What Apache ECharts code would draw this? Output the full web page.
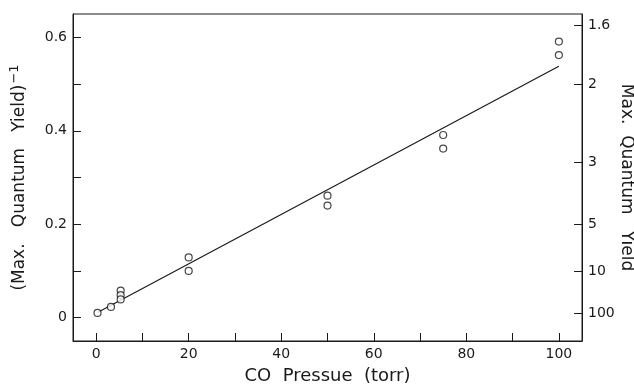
<!DOCTYPE html>
<html>
<head>
<meta charset="utf-8">
<script src="https://cdn.jsdelivr.net/npm/echarts@6/dist/echarts.min.js"></script>
<style>html,body{margin:0;padding:0;background:#fff}#c{width:634px;height:386px}</style>
</head>
<body>
<div id="c"></div>
<script>
// Data
var pressureTorr = [0.3, 3.2, 5.3, 5.3, 5.3, 20, 20, 50, 50, 75, 75, 100, 100];
var inverseYield = [0.010, 0.023, 0.058, 0.048, 0.039, 0.129, 0.100, 0.261, 0.240, 0.391, 0.362, 0.591, 0.562];
var fitX = [0.3, 100];
var fitY = [0.011, 0.538];
var xTicks = [0, 10, 20, 30, 40, 50, 60, 70, 80, 90, 100];
var xLabels = [0, 20, 40, 60, 80, 100];
var yTicks = [0, 0.1, 0.2, 0.3, 0.4, 0.5, 0.6];
var yLabels = [0, 0.2, 0.4, 0.6];
var rightYieldLabels = [1.6, 2, 3, 5, 10, 100];

var ink = '#1a1a1a';
var font = 'DejaVu Sans';
var pts = pressureTorr.map(function (x, i) { return [x, inverseYield[i]]; });
var fit = fitX.map(function (x, i) { return [x, fitY[i]]; });
var rightVals = rightYieldLabels.map(function (v) { return 1 / v; });

var chart = echarts.init(document.getElementById('c'), null, {renderer: 'canvas'});
chart.setOption({
  animation: false,
  backgroundColor: '#fff',
  grid: {left: 73, right: 52, top: 14, bottom: 45, show: true, borderColor: ink, borderWidth: 1,
    backgroundColor: 'transparent', containLabel: false, outerBoundsMode: 'none'},
  xAxis: {
    type: 'value', min: -5, max: 105,
    name: 'CO  Pressue  (torr)', nameLocation: 'middle', nameGap: 26,
    nameTextStyle: {fontFamily: font, fontSize: 18, color: ink},
    axisLine: {show: true, onZero: false, lineStyle: {color: ink, width: 1}},
    axisTick: {show: true, inside: true, length: 8, lineStyle: {color: ink}, customValues: xTicks},
    axisLabel: {show: true, fontFamily: font, fontSize: 14, color: ink, margin: 6, customValues: xLabels},
    splitLine: {show: false}
  },
  yAxis: [{
    type: 'value', min: -0.05, max: 0.65, position: 'left',
    name: '{a|(Max.   Quantum   Yield)}{s|−1}', nameLocation: 'middle', nameGap: 42,
    nameTextStyle: {fontFamily: font, fontSize: 17, color: ink,
      rich: {a: {fontFamily: font, fontSize: 17, color: ink}, s: {fontFamily: font, fontSize: 13, color: ink, verticalAlign: 'top', padding: [0, 0, 10, 1]}}},
    axisLine: {show: true, onZero: false, lineStyle: {color: ink, width: 1}},
    axisTick: {show: true, inside: true, length: 8, lineStyle: {color: ink}, customValues: yTicks},
    axisLabel: {show: true, fontFamily: font, fontSize: 14, color: ink, margin: 6, customValues: yLabels,
      formatter: function (v) { return v === 0 ? '0' : String(parseFloat(v.toFixed(1))); }},
    splitLine: {show: false}
  }, {
    type: 'value', min: -0.05, max: 0.65, position: 'right',
    name: 'Max.  Quantum   Yield', nameLocation: 'middle', nameGap: 36, nameRotate: -90, nameMoveOverlap: false,
    nameTextStyle: {fontFamily: font, fontSize: 17, color: ink},
    axisLine: {show: true, onZero: false, lineStyle: {color: ink, width: 1}},
    axisTick: {show: true, inside: true, length: 8, lineStyle: {color: ink}, customValues: rightVals},
    axisLabel: {show: true, fontFamily: font, fontSize: 14, color: ink, margin: 6, customValues: rightVals,
      formatter: function (v) { return String(parseFloat((1 / v).toPrecision(3))); }},
    splitLine: {show: false}
  }],
  series: [{
    type: 'line', data: fit, showSymbol: false, symbol: 'none', z: 2,
    lineStyle: {color: ink, width: 1.2}
  }, {
    type: 'scatter', data: pts, symbol: 'circle', symbolSize: 7, z: 3,
    itemStyle: {color: '#fff', borderColor: ink, borderWidth: 1.2}
  }]
});
</script>
</body>
</html>
